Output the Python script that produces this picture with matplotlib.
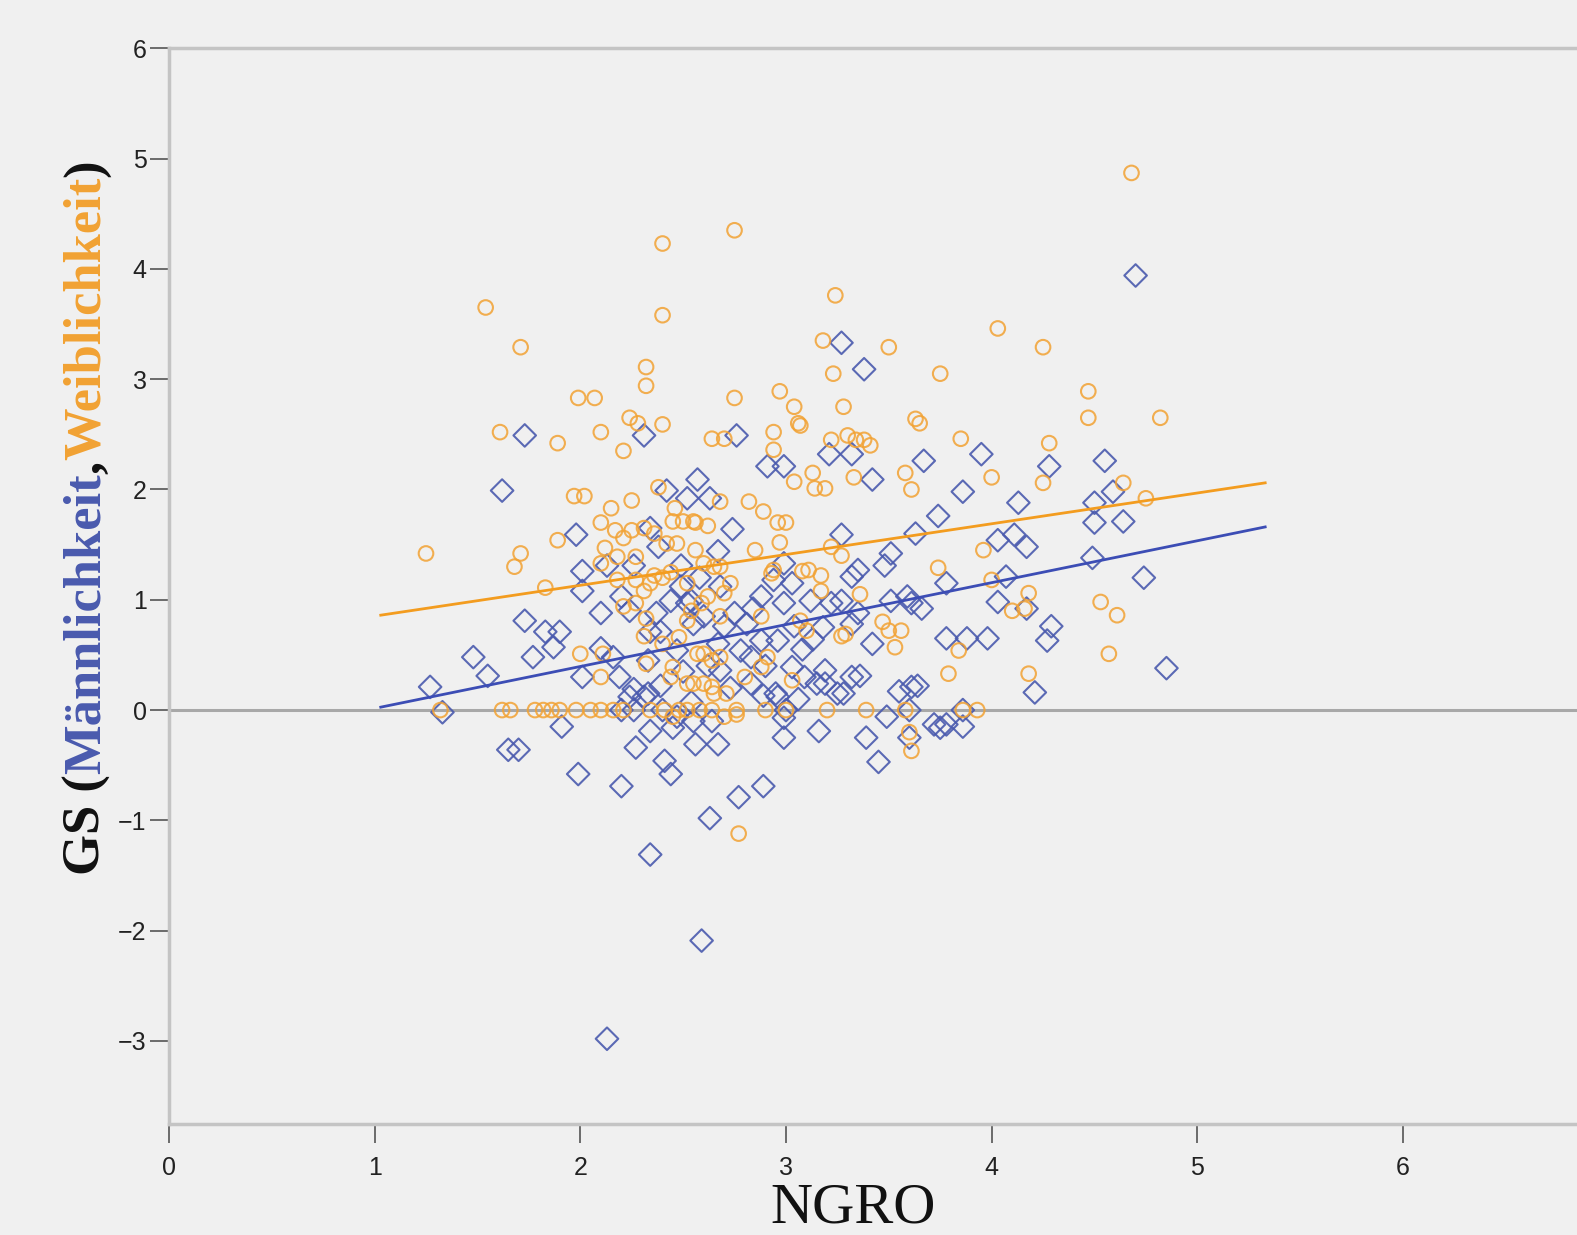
import numpy as np
import matplotlib
matplotlib.use("Agg")
import matplotlib.pyplot as plt

# GS Männlichkeit (blue diamonds): (NGRO, GS)
m_points = [
    (4.70, 3.94), (3.27, 3.33), (3.38, 3.09), (1.73, 2.49), (1.62, 1.99), (2.31, 2.49), (2.76, 2.49),
    (2.91, 2.21), (2.99, 2.21), (3.21, 2.32), (3.32, 2.32), (3.42, 2.09), (3.67, 2.26), (3.86, 1.98),
    (3.95, 2.32), (4.28, 2.21), (4.55, 2.26), (4.59, 1.98), (4.50, 1.88), (4.64, 1.71), (4.50, 1.70),
    (4.49, 1.38), (4.74, 1.20), (4.85, 0.38), (4.21, 0.16), (4.29, 0.76), (4.27, 0.63), (4.17, 0.92),
    (4.03, 0.98), (4.13, 1.88), (4.03, 1.54), (4.17, 1.48), (4.11, 1.59), (4.07, 1.21), (3.74, 1.76),
    (3.63, 1.60), (3.78, 1.15), (3.98, 0.65), (3.88, 0.65), (3.78, 0.65), (3.51, 1.42), (3.48, 1.31),
    (3.32, 1.21), (3.35, 1.27), (3.27, 1.59), (3.59, 1.03), (3.61, 0.97), (3.66, 0.92), (3.51, 0.99),
    (3.35, 0.88), (3.32, 0.78), (3.22, 0.97), (3.27, 0.99), (3.12, 0.99), (2.99, 0.97), (2.88, 1.03),
    (2.94, 1.18), (3.03, 1.15), (2.99, 1.33), (2.75, 0.88), (2.81, 0.78), (2.88, 0.63), (2.60, 0.85),
    (2.54, 0.99), (2.70, 0.76), (2.67, 0.60), (2.96, 0.63), (3.04, 0.76), (2.78, 0.54), (2.83, 0.48),
    (2.62, 0.40), (2.68, 0.36), (3.03, 0.39), (3.09, 0.30), (3.19, 0.36), (3.15, 0.24), (3.32, 0.30),
    (2.83, 0.24), (2.89, 0.13), (2.96, 0.12), (3.06, 0.10), (3.19, 0.24), (3.25, 0.15), (3.55, 0.17),
    (3.61, 0.21), (3.64, 0.22), (3.36, 0.31), (2.55, -0.10), (2.64, -0.10), (2.67, -0.31), (2.56, -0.31),
    (2.99, -0.25), (3.16, -0.19), (3.39, -0.25), (3.45, -0.47), (3.60, -0.25), (3.72, -0.13), (3.78, -0.13),
    (3.86, -0.15), (3.49, -0.06), (2.99, -0.07),
    (2.42, 1.99), (2.57, 2.09), (2.52, 1.92), (2.63, 1.92), (1.98, 1.59), (2.34, 1.65), (2.74, 1.64),
    (2.67, 1.44), (2.38, 1.48), (2.49, 1.31), (2.01, 1.26), (2.13, 1.31), (2.26, 1.31), (2.01, 1.08),
    (2.10, 0.88), (1.73, 0.81), (1.83, 0.71), (1.90, 0.71), (1.87, 0.57), (2.10, 0.56), (2.16, 0.48),
    (1.77, 0.48), (1.48, 0.48), (1.55, 0.31), (1.27, 0.21), (1.33, -0.02), (1.91, -0.15), (1.65, -0.36),
    (1.70, -0.36), (2.01, 0.30), (2.20, 1.03), (2.24, 0.90), (2.49, 1.12), (2.37, 0.88), (2.44, 0.99),
    (2.34, 0.71), (2.39, 0.71), (2.52, 0.97), (2.55, 0.78), (2.47, 0.54), (2.19, 0.30), (2.26, 0.19),
    (2.31, 0.12), (2.39, 0.22), (2.54, 0.07), (2.47, -0.06), (2.27, -0.34), (2.34, -0.19), (1.99, -0.58),
    (2.20, -0.69), (2.41, -0.46), (2.44, -0.58), (2.63, -0.98), (2.77, -0.79), (2.89, -0.69), (2.34, -1.31),
    (2.59, -2.09), (2.13, -2.98), (2.24, 0.12), (2.33, 0.15), (2.95, 0.15), (3.28, 0.15), (2.45, -0.16),
    (3.75, -0.16), (2.26, 0.00), (2.40, 0.00), (3.00, 0.00), (3.60, 0.00), (3.86, 0.00), (2.20, 0.00),
    (2.58, 1.20), (2.68, 1.12), (2.84, 0.92), (3.08, 0.55), (3.13, 0.64), (2.73, 0.20), (2.50, 0.35),
    (2.90, 0.40), (3.42, 0.60), (3.18, 0.75), (2.33, 0.45),
]

# GS Weiblichkeit (orange circles): (NGRO, GS)
w_points = [
    (4.68, 4.87), (2.75, 4.35), (2.40, 4.23), (1.54, 3.65), (2.40, 3.58), (3.24, 3.76), (4.03, 3.46),
    (1.71, 3.29), (3.18, 3.35), (3.50, 3.29), (4.25, 3.29), (2.32, 3.11), (2.32, 2.94), (3.75, 3.05),
    (3.23, 3.05), (1.99, 2.83), (2.07, 2.83), (2.75, 2.83), (2.97, 2.89), (3.04, 2.75), (3.28, 2.75),
    (4.47, 2.89), (4.47, 2.65), (4.82, 2.65), (1.61, 2.52), (1.89, 2.42), (2.10, 2.52), (2.24, 2.65),
    (2.28, 2.60), (2.40, 2.59), (2.21, 2.35), (2.64, 2.46), (2.70, 2.46), (2.94, 2.52), (2.94, 2.36),
    (3.06, 2.60), (3.22, 2.45), (3.30, 2.49), (3.34, 2.45), (3.38, 2.45), (3.41, 2.40), (3.85, 2.46),
    (4.28, 2.42), (3.63, 2.64), (3.65, 2.60), (3.58, 2.15), (3.61, 2.00), (4.00, 2.11), (4.25, 2.06),
    (1.97, 1.94), (2.02, 1.94), (2.15, 1.83), (2.25, 1.90), (2.46, 1.83), (2.38, 2.02), (2.45, 1.71),
    (2.50, 1.71), (2.55, 1.71), (2.68, 1.89), (2.82, 1.89), (2.96, 1.70), (3.00, 1.70), (3.14, 2.01),
    (3.19, 2.01), (3.33, 2.11), (3.04, 2.07), (3.13, 2.15), (2.89, 1.80), (1.89, 1.54), (2.10, 1.70),
    (2.17, 1.63), (2.21, 1.56), (2.25, 1.63), (2.31, 1.65), (2.36, 1.60), (2.12, 1.47), (2.10, 1.33),
    (2.27, 1.39), (1.71, 1.42), (1.68, 1.30), (1.25, 1.42), (1.83, 1.11), (2.62, 1.67), (2.56, 1.70),
    (2.65, 1.30), (2.73, 1.15), (2.70, 1.06), (2.93, 1.24), (3.08, 1.26), (3.17, 1.22), (3.27, 1.40),
    (3.17, 1.08), (3.47, 0.80), (3.50, 0.72), (3.56, 0.72), (3.53, 0.57), (3.74, 1.29), (3.79, 0.33),
    (2.54, 0.90), (2.59, 0.97), (2.88, 0.85), (3.07, 0.81), (3.10, 0.72), (3.27, 0.67), (2.60, 0.51),
    (2.68, 0.48), (2.91, 0.48), (2.55, 0.24), (2.64, 0.21), (2.88, 0.39), (2.70, -0.06), (2.47, 1.51),
    (2.18, 1.39), (2.27, 1.18), (2.31, 1.08), (2.34, 1.15), (2.21, 0.94), (2.00, 0.51), (2.11, 0.51),
    (2.32, 0.42), (2.44, 0.30), (2.10, 0.30), (2.42, 1.51), (2.60, 1.33), (2.68, 1.30), (2.94, 1.27),
    (3.11, 1.27), (3.29, 0.69), (2.32, 0.83), (2.31, 0.67), (2.52, 0.81), (2.62, 1.03), (2.68, 0.85),
    (2.57, 0.51), (2.64, 0.45), (2.45, 0.39), (2.52, 0.24), (2.60, 0.24), (2.65, 0.15), (2.71, 0.15),
    (2.76, -0.04), (2.45, -0.06), (4.53, 0.98), (4.61, 0.86), (4.57, 0.51), (4.18, 0.33), (4.75, 1.92),
    (4.64, 2.06), (3.96, 1.45), (4.00, 1.18), (4.18, 1.06), (4.16, 0.92), (4.10, 0.90), (3.84, 0.54),
    (3.61, -0.37), (3.60, -0.20), (2.77, -1.12), (3.07, 2.58),
    (1.32, 0.0), (1.62, 0.0), (1.66, 0.0), (1.78, 0.0), (1.82, 0.0), (1.86, 0.0), (1.90, 0.0),
    (1.98, 0.0), (2.05, 0.0), (2.10, 0.0), (2.16, 0.0), (2.21, 0.0), (2.34, 0.0), (2.41, 0.0),
    (2.48, 0.0), (2.52, 0.0), (2.58, 0.0), (2.64, 0.0), (2.76, 0.0), (2.90, 0.0), (3.00, 0.0),
    (3.20, 0.0), (3.39, 0.0), (3.58, 0.0), (3.86, 0.0), (3.93, 0.0),
    (2.36, 1.22), (2.40, 1.20), (2.44, 1.25), (2.52, 1.15), (2.40, 0.60), (2.48, 0.66), (2.85, 1.45),
    (2.97, 1.52), (3.36, 1.05), (3.22, 1.48), (2.80, 0.30), (3.03, 0.27), (2.56, 1.45), (2.18, 1.18),
    (2.27, 0.97),
]

# linear fit lines: x range, (intercept, slope)
fit_x = [1.03, 5.33]
m_fit = (-0.365, 0.380)
w_fit = (0.573, 0.279)

x_ticks = [0, 1, 2, 3, 4, 5, 6]
y_ticks = [-3, -2, -1, 0, 1, 2, 3, 4, 5, 6]

blue = '#4a5aae'
orange = '#f2a233'
bg = '#f0f0f0'

fig = plt.figure(figsize=(15.77, 12.35), dpi=100, facecolor=bg)
ax = fig.add_axes([0.1071, 0.0896, 0.8929, 0.8713], facecolor=bg)
ax.set_xlim(0, 6.846)
ax.set_ylim(-3.756, 6.0)

# zero reference line
ax.axhline(0, color='#a8a8a8', lw=2.2, zorder=1)

m = np.array(m_points)
w = np.array(w_points)
ax.scatter(m[:, 0], m[:, 1], marker='D', s=11.5 ** 2, facecolors='none',
           edgecolors=blue, linewidths=1.5, alpha=0.9, zorder=3)
ax.scatter(w[:, 0], w[:, 1], marker='o', s=10.5 ** 2, facecolors='none',
           edgecolors=orange, linewidths=1.5, alpha=0.85, zorder=3)

fx = np.array(fit_x)
ax.plot(fx, m_fit[0] + m_fit[1] * fx, color='#3c4db5', lw=2.0, zorder=4)
ax.plot(fx, w_fit[0] + w_fit[1] * fx, color='#f39c1f', lw=2.0, zorder=4)

ax.spines['right'].set_visible(False)
for side in ['left', 'top', 'bottom']:
    ax.spines[side].set_color('#c4c4c4')
    ax.spines[side].set_linewidth(2.5)

ax.set_xticks(x_ticks)
ax.set_yticks(y_ticks)
ax.set_yticklabels([str(v).replace('-', '\u2212') for v in y_ticks])
ax.tick_params(axis='both', colors='#555555', length=14, width=1.2, labelsize=18,
               labelcolor='#222222')
ax.tick_params(axis='x', pad=9)
ax.tick_params(axis='y', pad=2)
for lab in ax.get_xticklabels() + ax.get_yticklabels():
    lab.set_family('Liberation Sans')

fig.text(0.541, 0.010, 'NGRO', ha='center', va='baseline', fontsize=42,
         family='Liberation Serif', color='#111111')

# multi-coloured vertical y label
parts = [('GS (', '#111111'), ('Männlichkeit', blue), (',', '#111111'),
         ('Weiblichkeit', orange), (')', '#111111')]
W, H = fig.get_size_inches() * fig.dpi
x_base = 100.0
y_start = 1235 - 875.0
target = 716.0

fig.canvas.draw()
r = fig.canvas.get_renderer()


def place(size):
    texts = []
    y = y_start
    for s, c in parts:
        t = fig.text(x_base / W, y / H, s, rotation=90, rotation_mode='anchor',
                     ha='left', va='baseline', fontsize=size, color=c,
                     family='Liberation Serif', fontweight='bold')
        bb = t.get_window_extent(r)
        y += bb.height
        texts.append(t)
    return texts, y - y_start


texts, total = place(40)
for t in texts:
    t.remove()
place(40 * target / total)

fig.savefig('out.png', dpi=100, facecolor=bg)
